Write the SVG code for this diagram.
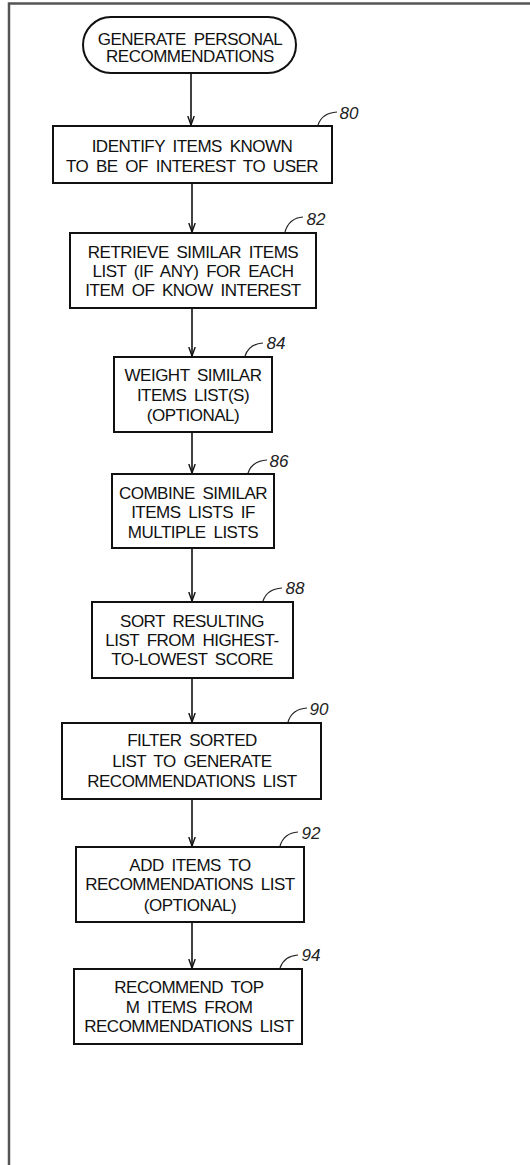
<svg xmlns="http://www.w3.org/2000/svg" width="530" height="1165" viewBox="0 0 530 1165">
<defs>
<style>
.box{fill:#fff;stroke:#111;stroke-width:2}
.t{font-family:"Liberation Sans",Arial,sans-serif;font-size:17px;letter-spacing:-0.5px;word-spacing:3.5px;fill:#111;text-anchor:middle}
.lbl{font-family:"Liberation Sans",Arial,sans-serif;font-size:17px;font-style:italic;fill:#222;text-anchor:middle}
.ld{fill:none;stroke:#222;stroke-width:1.2}
.c{stroke:#111;stroke-width:1.6;fill:none}
.frame{stroke:#555;stroke-width:2.5;fill:none}
</style>
<marker id="ah" markerWidth="10" markerHeight="10" refX="9" refY="5" orient="auto" markerUnits="userSpaceOnUse">
<path d="M0,1.8 L9,5 L0,8.2" fill="none" stroke="#111" stroke-width="1.4"/>
</marker>
</defs>
<rect width="530" height="1165" fill="#fff"/>
<path class="frame" d="M530,3.5 L9,3.5 L9,1165"/>
<g id="connectors">
<line class="c" x1="191" y1="73" x2="191" y2="125" marker-end="url(#ah)"/>
<line class="c" x1="192" y1="183" x2="192" y2="232" marker-end="url(#ah)"/>
<line class="c" x1="192" y1="308" x2="192" y2="356" marker-end="url(#ah)"/>
<line class="c" x1="192" y1="432" x2="192" y2="473" marker-end="url(#ah)"/>
<line class="c" x1="192" y1="548" x2="192" y2="601" marker-end="url(#ah)"/>
<line class="c" x1="192" y1="678" x2="192" y2="722" marker-end="url(#ah)"/>
<line class="c" x1="192" y1="799" x2="192" y2="846" marker-end="url(#ah)"/>
<line class="c" x1="192" y1="922" x2="192" y2="968" marker-end="url(#ah)"/>
</g>
<g id="start">
<rect class="box" x="83" y="17" width="213" height="56" rx="28" ry="28"/>
<text class="t" x="190" y="45">GENERATE PERSONAL</text>
<text class="t" x="190" y="62">RECOMMENDATIONS</text>
</g>
<g id="n80">
<rect class="box" x="53" y="126" width="279" height="57"/>
<text class="t" x="192" y="152">IDENTIFY ITEMS KNOWN</text>
<text class="t" x="192" y="172">TO BE OF INTEREST TO USER</text>
<path class="ld" d="M318,125 Q322,113 337,112"/>
<text class="lbl" x="349" y="119">80</text>
</g>
<g id="n82">
<rect class="box" x="70" y="233" width="246" height="75"/>
<text class="t" x="193" y="258">RETRIEVE SIMILAR ITEMS</text>
<text class="t" x="193" y="277">LIST (IF ANY) FOR EACH</text>
<text class="t" x="193" y="296">ITEM OF KNOW INTEREST</text>
<path class="ld" d="M285,232 Q289,218 303,217"/>
<text class="lbl" x="316" y="225">82</text>
</g>
<g id="n84">
<rect class="box" x="114" y="357" width="158" height="75"/>
<text class="t" x="193" y="381">WEIGHT SIMILAR</text>
<text class="t" x="193" y="401">ITEMS LIST(S)</text>
<text class="t" x="193" y="421">(OPTIONAL)</text>
<path class="ld" d="M245,356 Q249,344 263,343"/>
<text class="lbl" x="276" y="349">84</text>
</g>
<g id="n86">
<rect class="box" x="112" y="474" width="162" height="74"/>
<text class="t" x="193" y="499">COMBINE SIMILAR</text>
<text class="t" x="193" y="518">ITEMS LISTS IF</text>
<text class="t" x="193" y="538">MULTIPLE LISTS</text>
<path class="ld" d="M248,473 Q252,461 267,460"/>
<text class="lbl" x="279" y="467">86</text>
</g>
<g id="n88">
<rect class="box" x="92" y="602" width="201" height="76"/>
<text class="t" x="192" y="627">SORT RESULTING</text>
<text class="t" x="192" y="646">LIST FROM HIGHEST-</text>
<text class="t" x="192" y="665">TO-LOWEST SCORE</text>
<path class="ld" d="M263,601 Q267,589 282,588"/>
<text class="lbl" x="295" y="594">88</text>
</g>
<g id="n90">
<rect class="box" x="62" y="723" width="259" height="76"/>
<text class="t" x="192" y="746">FILTER SORTED</text>
<text class="t" x="192" y="767">LIST TO GENERATE</text>
<text class="t" x="192" y="787">RECOMMENDATIONS LIST</text>
<path class="ld" d="M288,722 Q292,709 307,708"/>
<text class="lbl" x="319" y="715">90</text>
</g>
<g id="n92">
<rect class="box" x="76" y="847" width="228" height="75"/>
<text class="t" x="190" y="871">ADD ITEMS TO</text>
<text class="t" x="190" y="890">RECOMMENDATIONS LIST</text>
<text class="t" x="190" y="911">(OPTIONAL)</text>
<path class="ld" d="M280,846 Q284,833 298,832"/>
<text class="lbl" x="311" y="839">92</text>
</g>
<g id="n94">
<rect class="box" x="74" y="969" width="228" height="75"/>
<text class="t" x="189" y="993">RECOMMEND TOP</text>
<text class="t" x="189" y="1013">M ITEMS FROM</text>
<text class="t" x="189" y="1032">RECOMMENDATIONS LIST</text>
<path class="ld" d="M280,968 Q284,956 298,955"/>
<text class="lbl" x="311" y="961">94</text>
</g>
</svg>
